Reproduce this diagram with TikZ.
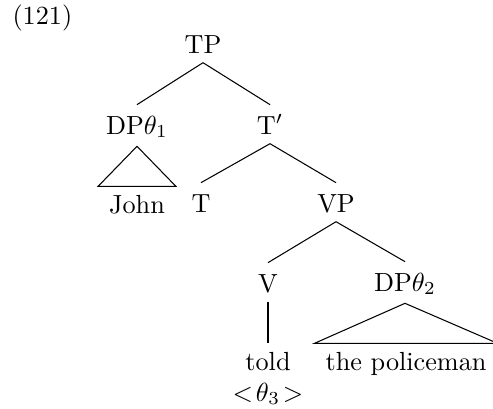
\documentclass[tikz,border=0pt]{standalone}
\begin{document}
\begin{tikzpicture}[x=0.3817pt,y=-0.3817pt,
  tn/.style={inner sep=0pt,text height=11pt,text depth=3.5pt,anchor=base},
  leaf/.style={inner sep=0pt,text height=10pt,text depth=3.5pt,anchor=base},
  branch/.style={line width=0.4pt}]
\useasboundingbox (0,0) rectangle (493,408);
\node[anchor=base west,inner sep=0pt] (num) at (12,25) {(121)};
\node[tn] (TP) at (203,53) {TP};
\node[tn] (DP1) at (137,134) {DP$\theta_1$};
\node[tn] (Tbar) at (270,134) {T$'$};
\node[leaf] (John) at (137,213) {John};
\node[tn] (T) at (201,212) {T};
\node[tn] (VP) at (336,212) {VP};
\node[tn] (V) at (268,292) {V};
\node[tn] (DP2) at (405,291) {DP$\theta_2$};
\node[leaf] (told) at (268,370) {told};
\node[leaf] (theta) at (268,401) {$<\!\theta_3\!>$};
\node[leaf] (pol) at (406,370) {the policeman};
\draw[branch] (TP.south) -- (DP1.north);
\draw[branch] (TP.south) -- (Tbar.north);
\draw[branch] (Tbar.south) -- (T.north);
\draw[branch] (Tbar.south) -- (VP.north);
\draw[branch] (VP.south) -- (V.north);
\draw[branch] (VP.south) -- (DP2.north);
\draw[branch] (V.south) -- (told.north);
\draw[branch] ([yshift=-1pt]DP1.south) -- ([xshift=-4pt]John.north west) -- ([xshift=4pt]John.north east) -- cycle;
\draw[branch] ([yshift=-1pt]DP2.south) -- ([xshift=-4pt]pol.north west) -- ([xshift=4pt]pol.north east) -- cycle;
\end{tikzpicture}
\end{document}
